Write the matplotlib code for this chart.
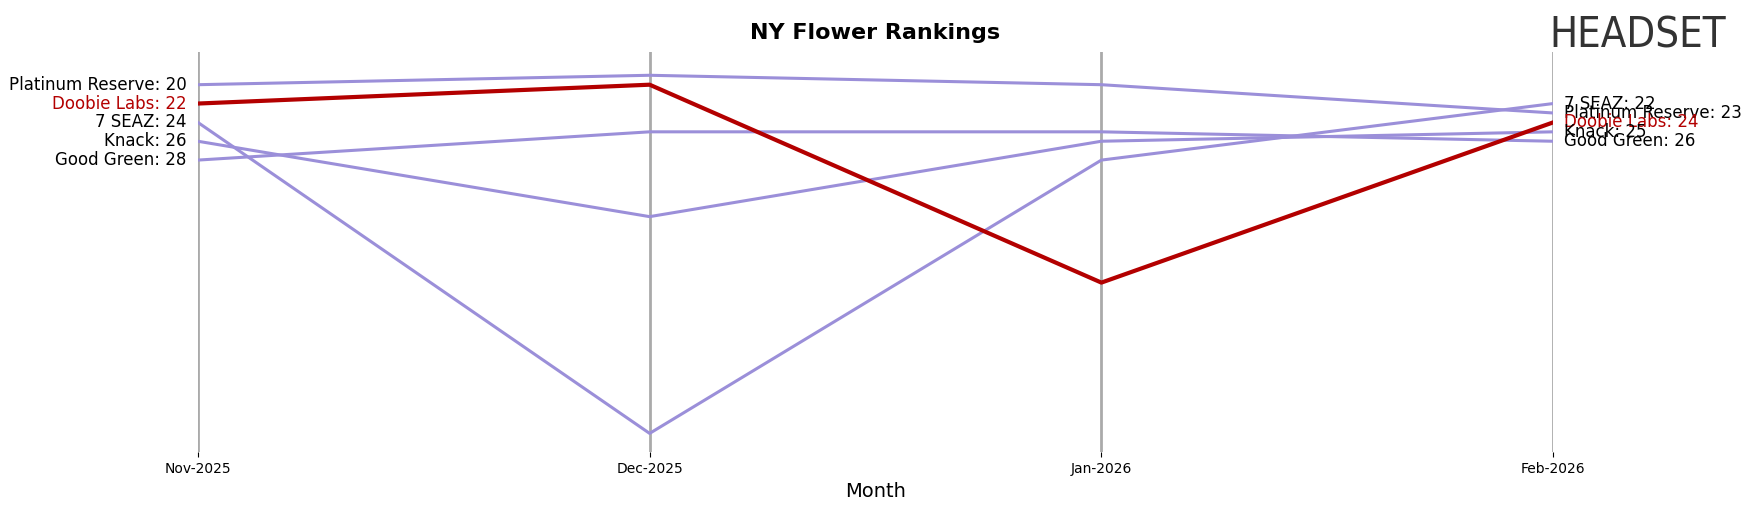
import matplotlib
matplotlib.use("Agg")
import matplotlib.pyplot as plt

months = ["Nov-2025", "Dec-2025", "Jan-2026", "Feb-2026"]
brands = ["Platinum Reserve", "Doobie Labs", "7 SEAZ", "Knack", "Good Green"]
ranks = {
    "Platinum Reserve": [20, 19, 20, 23],
    "Doobie Labs": [22, 20, 41, 24],
    "7 SEAZ": [24, 57, 28, 22],
    "Knack": [26, 34, 26, 25],
    "Good Green": [28, 25, 25, 26],
}
highlight = "Doobie Labs"

fig = plt.figure(figsize=(17.51, 5.07), dpi=100)
ax = fig.add_axes([0.113, 0.108, 0.774, 0.79])
x = list(range(len(months)))
for b in brands:
    if b == highlight:
        continue
    ax.plot(x, ranks[b], color="#9b8fd9", lw=2.2, zorder=2)
ax.plot(x, ranks[highlight], color="#b30000", lw=3, zorder=3)
for xi in x:
    ax.axvline(xi, color="#aaaaaa", lw=2, zorder=1)

ax.set_xlim(0, 3)
ax.set_ylim(59.0, 16.5)
ax.set_yticks([])
ax.set_xticks(x)
ax.set_xticklabels(months, fontsize=10)
for s in ax.spines.values():
    s.set_visible(False)
ax.set_xlabel("Month", fontsize=14)

for b in brands:
    c = "#b30000" if b == highlight else "black"
    ax.text(-0.025, ranks[b][0], f"{b}: {ranks[b][0]}", ha="right", va="center",
            fontsize=12, color=c)
    ax.text(3.025, ranks[b][-1], f"{b}: {ranks[b][-1]}", ha="left", va="center",
            fontsize=12, color=c)

fig.text(0.5, 0.935, "NY Flower Rankings", ha="center", va="center",
         fontsize=16, fontweight="bold")
fig.text(0.885, 0.93, "HEADSET", ha="left", va="center", fontsize=30,
         color="#333333", fontstretch="condensed")
fig.savefig("out.png", dpi=100)
